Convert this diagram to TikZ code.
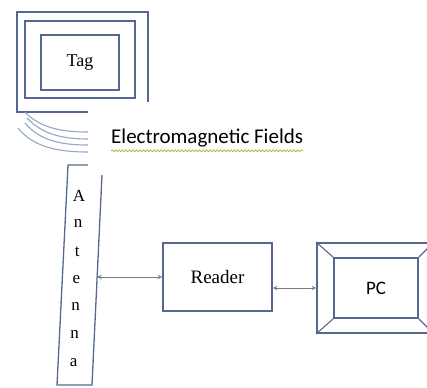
\documentclass[tikz,border=0pt]{standalone}
\usepackage{fontspec}
\setmainfont{Liberation Serif}
\newfontfamily\califont{Carlito}
\usepackage{tikz}
\usetikzlibrary{decorations.pathmorphing}

\definecolor{frameblue}{RGB}{84,104,146}
\definecolor{fieldblue}{RGB}{150,166,198}
\definecolor{arrowgrey}{RGB}{120,122,132}
\definecolor{squiggle}{RGB}{150,190,60}

\begin{document}
\begin{tikzpicture}[x=1pt,y=-1pt,
  boxline/.style={draw=frameblue,line width=1.8pt},
  thinline/.style={draw=frameblue,line width=1.3pt},
  link/.style={<->,>=stealth,draw=arrowgrey,line width=1pt}]

\useasboundingbox (0,0) rectangle (427,387) ;
\clip (0,0) rectangle (427,387) ;

\draw[boxline] (88,112) -- (17,112) -- (17,12) -- (148,12) -- (148,102) ;
\draw[boxline] (25,21) rectangle (135,98) ;
\node[boxline,minimum width=78pt,minimum height=55pt,font=\fontsize{18}{20}\selectfont] (tag) at (80,62.5) {Tag} ;

\draw[fieldblue,line width=1.1pt] (25,112) .. controls (40,128) and (62,132) .. (88,132) ;
\draw[fieldblue,line width=1.1pt] (27,118) .. controls (42,134) and (62,139) .. (88,139) ;
\draw[fieldblue,line width=1.1pt] (25,123) .. controls (40,141) and (62,145) .. (88,145) ;
\draw[fieldblue,line width=1.1pt] (18,128) .. controls (34,148) and (60,152) .. (88,152) ;

\node[anchor=base west,inner sep=0pt,font=\califont\fontsize{21}{23}\selectfont] (fields) at (111,144) {Electromagnetic Fields} ;
\draw[squiggle,line width=0.7pt,decorate,decoration={snake,amplitude=1pt,segment length=3.5pt}]
  ([yshift=-3pt]fields.south west) -- ([yshift=-3pt]fields.south east) ;

\coordinate (ant_tl) at (68,165) ;
\coordinate (ant_bl) at (57,385) ;
\coordinate (ant_tr) at (102,175) ;
\coordinate (ant_br) at (92,385) ;
\coordinate (ant_port) at (97.2,277) ;
\draw[thinline] (88,165) -- (ant_tl) -- (ant_bl) -- (ant_br) -- (ant_tr) ;
\foreach \ch [count=\i] in {A,n,t,e,n,n,a}
  \node[font=\fontsize{17}{19}\selectfont,inner sep=0pt] (ant\i) at (80-\i*0.9,196+\i*27.7-27.7) {\ch} ;

\node[boxline,minimum width=109pt,minimum height=68pt,font=\fontsize{19}{21}\selectfont] (reader) at (217.5,277) {Reader} ;

\node[boxline,minimum width=116pt,minimum height=90pt] (pc) at (375,288) {} ;
\node[boxline,minimum width=84pt,minimum height=60pt,font=\califont\fontsize{19}{21}\selectfont] (pcin) at (376,288) {PC} ;
\draw[frameblue,line width=1.1pt] (pc.north west) -- (pcin.north west) ;
\draw[frameblue,line width=1.1pt] (pc.south west) -- (pcin.south west) ;
\draw[frameblue,line width=1.1pt] (pc.north east) -- (pcin.north east) ;
\draw[frameblue,line width=1.1pt] (pc.south east) -- (pcin.south east) ;

\draw[link] (ant_port) -- (reader.west) ;
\draw[link] (reader.east |- pc.west) -- (pc.west) ;

\end{tikzpicture}
\end{document}
